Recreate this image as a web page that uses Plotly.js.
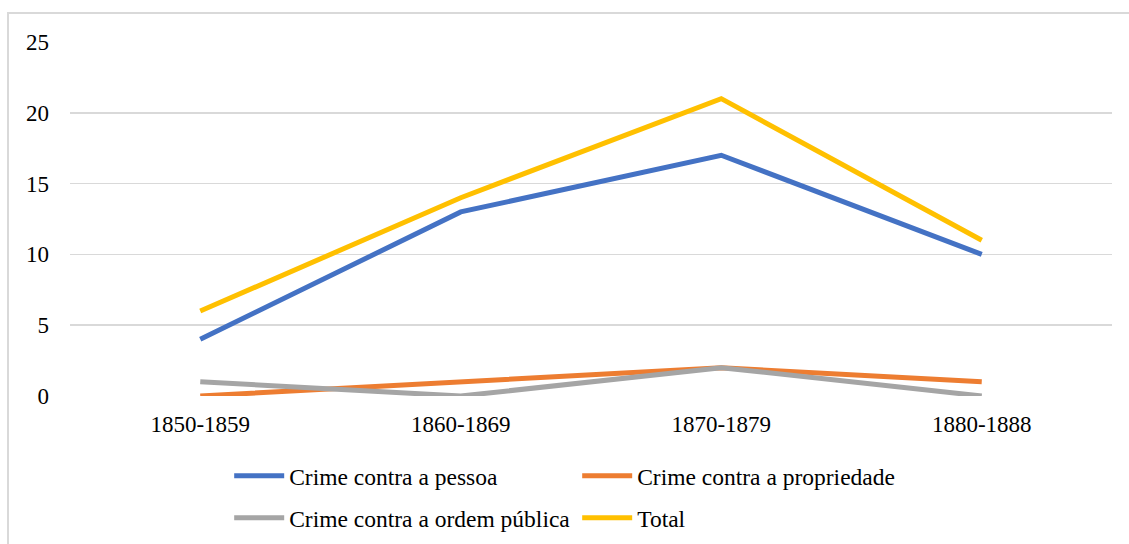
<!DOCTYPE html>
<html>
<head>
<meta charset="utf-8">
<script src="https://cdn.plot.ly/plotly-3.0.1.min.js"></script>
<style>
html,body{margin:0;padding:0;background:#fff;}
#frame{position:absolute;left:7px;top:12px;width:1140px;height:560px;border:2px solid #d9d9d9;box-sizing:border-box;}
#chart{position:absolute;left:0;top:0;width:1129px;height:544px;}
</style>
</head>
<body>
<div id="frame"></div>
<div id="chart"></div>
<script>
const categories = ["1850-1859", "1860-1869", "1870-1879", "1880-1888"];
const seriesNames = ["Crime contra a pessoa", "Crime contra a propriedade", "Crime contra a ordem pública", "Total"];
const pessoa = [4, 13, 17, 10];
const propriedade = [0, 1, 2, 1];
const ordemPublica = [1, 0, 2, 0];
const total = [6, 14, 21, 11];
const yTicks = [0, 5, 10, 15, 20, 25];

const colors = ["#4472C4", "#ED7D31", "#A5A5A5", "#FFC000"];
const values = [pessoa, propriedade, ordemPublica, total];
const legendIds = ["legend", "legend", "legend2", "legend2"];

const traces = values.map((v, i) => ({
  type: "scatter",
  mode: "lines",
  x: categories,
  y: v,
  name: seriesNames[i],
  line: {color: colors[i], width: 5},
  legend: legendIds[i]
}));

const font = {family: "'Liberation Serif', 'Times New Roman', serif", color: "#000"};
const legendBase = {
  orientation: "h",
  xref: "container", yref: "container",
  xanchor: "left", yanchor: "middle",
  x: 0.203,
  font: Object.assign({}, font, {size: 23.5}),
  entrywidth: 283,
  itemwidth: 50,
  bgcolor: "rgba(0,0,0,0)"
};

const layout = {
  width: 1129, height: 544,
  margin: {l: 70, r: 17, t: 42, b: 148},
  paper_bgcolor: "rgba(0,0,0,0)",
  plot_bgcolor: "rgba(0,0,0,0)",
  font: Object.assign({}, font, {size: 23}),
  showlegend: true,
  legend: Object.assign({}, legendBase, {y: (544 - 476) / 544}),
  legend2: Object.assign({}, legendBase, {y: (544 - 518) / 544}),
  xaxis: {
    type: "category",
    range: [-0.5, 3.5],
    showgrid: false, zeroline: false, showline: false,
    ticks: "",
    ticklabelstandoff: 12,
    tickfont: Object.assign({}, font, {size: 23}),
    fixedrange: true
  },
  yaxis: {
    range: [0, 25],
    tickvals: yTicks,
    ticktext: yTicks.map(String),
    showgrid: true, gridcolor: "#d9d9d9", gridwidth: 1.5,
    zeroline: false, showline: false,
    ticks: "",
    ticklabelstandoff: 20,
    tickfont: Object.assign({}, font, {size: 23}),
    automargin: false,
    fixedrange: true
  }
};

Plotly.newPlot("chart", traces, layout, {displayModeBar: false, staticPlot: true});
</script>
</body>
</html>
